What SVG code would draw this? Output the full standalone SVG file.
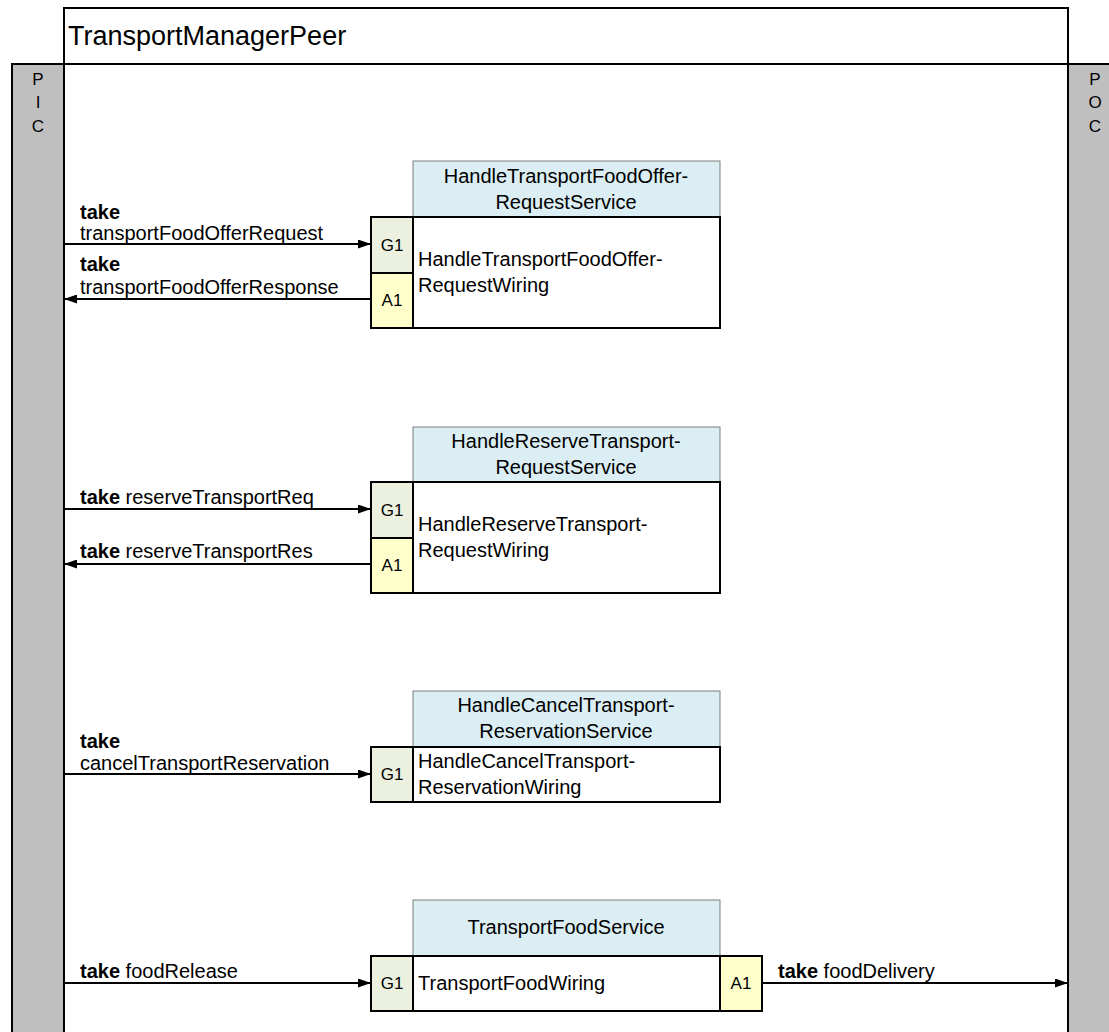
<svg xmlns="http://www.w3.org/2000/svg" width="1109" height="1032" viewBox="0 0 1109 1032">
  <defs>
    <marker id="arr" viewBox="0 0 13 9" refX="13" refY="4.5" markerWidth="13" markerHeight="9" markerUnits="userSpaceOnUse" orient="auto">
      <path d="M0,0 L13,4.5 L0,9 z" fill="#000"/>
    </marker>
    <style>
      text { font-family: "Liberation Sans", Arial, sans-serif; fill: #000; }
      .bar { fill: #bfbfbf; stroke: #000; stroke-width: 2; }
      .frame { fill: #fff; stroke: #000; stroke-width: 2; }
      .svc { fill: #daeef3; stroke: #7f7f7f; stroke-width: 1; }
      .wire { fill: #fff; stroke: #000; stroke-width: 2; }
      .g { fill: #ebf1de; stroke: #000; stroke-width: 2; }
      .a { fill: #ffffcc; stroke: #000; stroke-width: 2; }
      .lbl { font-size: 20px; }
      .ctr { font-size: 20px; text-anchor: middle; }
      .port { font-size: 17px; text-anchor: middle; }
      .side { font-size: 17px; text-anchor: middle; }
      .conn { stroke: #000; stroke-width: 2; fill: none; marker-end: url(#arr); }
      .b { font-weight: bold; }
    </style>
  </defs>

  <!-- peer frame -->
  <g id="peer">
    <rect class="frame" x="64" y="8" width="1004" height="56"/>
    <text x="68" y="45" style="font-size:27px">TransportManagerPeer</text>
    <rect class="frame" x="64" y="64" width="1004" height="980"/>
  </g>

  <!-- input / output channel bars -->
  <g id="pic">
    <rect class="bar" x="12" y="64" width="52" height="980"/>
    <text class="side" x="38" y="85">P</text>
    <text class="side" x="38" y="108">I</text>
    <text class="side" x="38" y="132">C</text>
  </g>
  <g id="poc">
    <rect class="bar" x="1068" y="64" width="50" height="980"/>
    <text class="side" x="1095" y="85">P</text>
    <text class="side" x="1095" y="108">O</text>
    <text class="side" x="1095" y="132">C</text>
  </g>

  <!-- service 1 -->
  <g id="svc-offer">
    <rect class="svc" x="413" y="161" width="307" height="56"/>
    <text class="ctr" x="566" y="183">HandleTransportFoodOffer-</text>
    <text class="ctr" x="566" y="209">RequestService</text>
    <rect class="wire" x="413" y="217" width="307" height="111"/>
    <text class="lbl" x="418" y="266">HandleTransportFoodOffer-</text>
    <text class="lbl" x="418" y="292">RequestWiring</text>
    <rect class="g" x="371" y="217" width="42" height="56"/>
    <text class="port" x="392" y="251">G1</text>
    <rect class="a" x="371" y="273" width="42" height="55"/>
    <text class="port" x="392" y="306">A1</text>
  </g>

  <!-- service 2 -->
  <g id="svc-reserve">
    <rect class="svc" x="413" y="427" width="307" height="55"/>
    <text class="ctr" x="566" y="448">HandleReserveTransport-</text>
    <text class="ctr" x="566" y="474">RequestService</text>
    <rect class="wire" x="413" y="482" width="307" height="111"/>
    <text class="lbl" x="418" y="531">HandleReserveTransport-</text>
    <text class="lbl" x="418" y="557">RequestWiring</text>
    <rect class="g" x="371" y="482" width="42" height="56"/>
    <text class="port" x="392" y="516">G1</text>
    <rect class="a" x="371" y="538" width="42" height="55"/>
    <text class="port" x="392" y="571">A1</text>
  </g>

  <!-- service 3 -->
  <g id="svc-cancel">
    <rect class="svc" x="413" y="691" width="307" height="56"/>
    <text class="ctr" x="566" y="712">HandleCancelTransport-</text>
    <text class="ctr" x="566" y="738">ReservationService</text>
    <rect class="wire" x="413" y="747" width="307" height="55"/>
    <text class="lbl" x="418" y="768">HandleCancelTransport-</text>
    <text class="lbl" x="418" y="794">ReservationWiring</text>
    <rect class="g" x="371" y="747" width="42" height="55"/>
    <text class="port" x="392" y="780">G1</text>
  </g>

  <!-- service 4 -->
  <g id="svc-food">
    <rect class="svc" x="413" y="900" width="307" height="56"/>
    <text class="ctr" x="566" y="934">TransportFoodService</text>
    <rect class="wire" x="413" y="956" width="307" height="55"/>
    <text class="lbl" x="418" y="990">TransportFoodWiring</text>
    <rect class="g" x="371" y="956" width="42" height="55"/>
    <text class="port" x="392" y="989">G1</text>
    <rect class="a" x="720" y="956" width="42" height="55"/>
    <text class="port" x="741" y="989">A1</text>
  </g>

  <!-- connectors -->
  <g id="connectors">
    <line class="conn" x1="64" y1="244" x2="371" y2="244"/>
    <text class="lbl b" x="80" y="219">take</text>
    <text class="lbl" x="80" y="240">transportFoodOfferRequest</text>

    <line class="conn" x1="371" y1="299" x2="64" y2="299"/>
    <text class="lbl b" x="80" y="271">take</text>
    <text class="lbl" x="80" y="294">transportFoodOfferResponse</text>

    <line class="conn" x1="64" y1="509" x2="371" y2="509"/>
    <text class="lbl" x="80" y="504"><tspan class="b">take</tspan> reserveTransportReq</text>

    <line class="conn" x1="371" y1="564" x2="64" y2="564"/>
    <text class="lbl" x="80" y="558"><tspan class="b">take</tspan> reserveTransportRes</text>

    <line class="conn" x1="64" y1="774" x2="371" y2="774"/>
    <text class="lbl b" x="80" y="748">take</text>
    <text class="lbl" x="80" y="770">cancelTransportReservation</text>

    <line class="conn" x1="64" y1="983" x2="371" y2="983"/>
    <text class="lbl" x="80" y="978"><tspan class="b">take</tspan> foodRelease</text>

    <line class="conn" x1="762" y1="983" x2="1068" y2="983"/>
    <text class="lbl" x="778" y="978"><tspan class="b">take</tspan> foodDelivery</text>
  </g>
</svg>
